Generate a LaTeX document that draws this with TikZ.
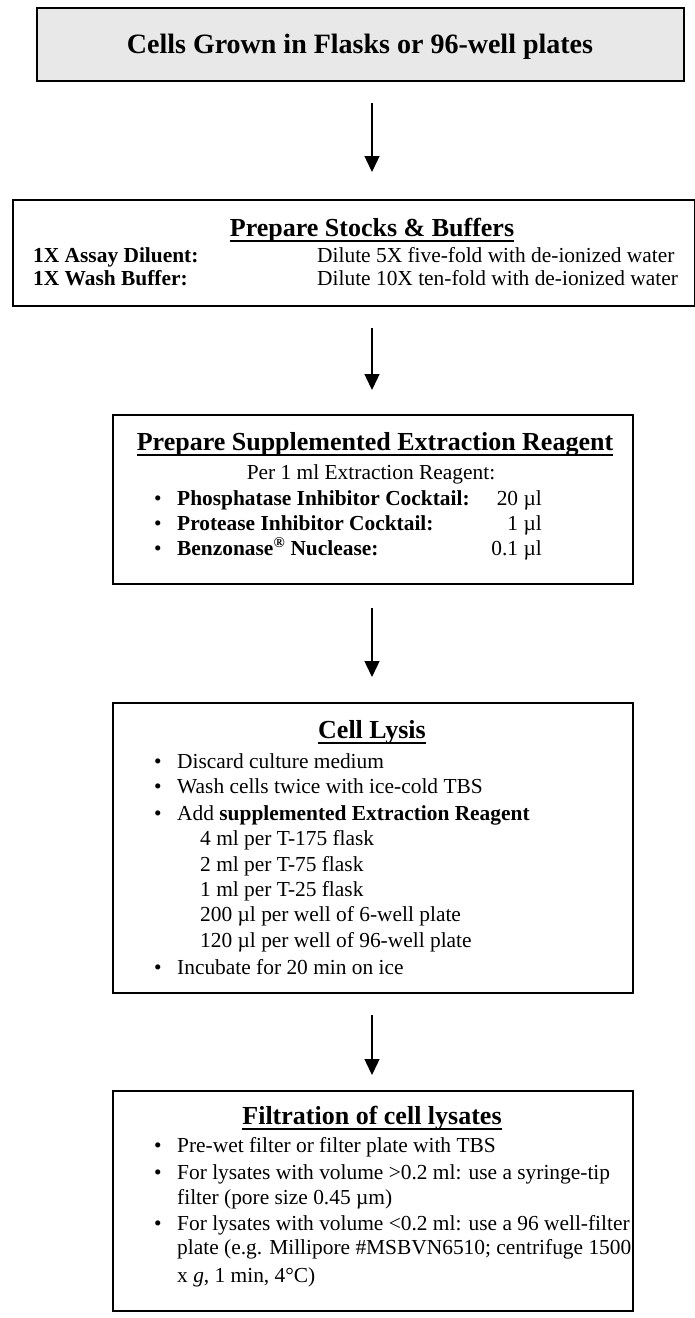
\documentclass[tikz,border=0pt]{standalone}
\usepackage{fontspec}
\setmainfont{Liberation Serif}
\usetikzlibrary{arrows.meta}
\definecolor{boxgray}{RGB}{232,232,232}
\begin{document}
\begin{tikzpicture}[x=1pt,y=-1pt,
  box/.style={draw, line width=1.6pt, inner sep=0pt, anchor=north west},
  body/.style={font=\fontsize{21.4}{25}\selectfont, inner sep=0pt, anchor=base west},
  bodyc/.style={font=\fontsize{21.4}{25}\selectfont, inner sep=0pt, anchor=base},
  bodyr/.style={font=\fontsize{21.4}{25}\selectfont, inner sep=0pt, anchor=base east},
  head/.style={font=\fontsize{26}{30}\selectfont\bfseries, inner sep=0pt, anchor=base},
  uline/.style={line width=1.8pt},
  flow/.style={-{Triangle[width=15pt,length=16pt]}, line width=1.4pt}]
\useasboundingbox (0,0) rectangle (695,1318);

% ---------- Box 1 ----------
\node[box, fill=boxgray, line width=2pt, minimum width=647pt, minimum height=73pt] (b1) at (36,7) {};
\node[font=\fontsize{28}{32}\selectfont\bfseries, inner sep=0pt, anchor=base] (t1) at (360,53) {Cells Grown in Flasks or 96-well plates};

\coordinate (a1s) at (372,103);
\coordinate (a1e) at (372,172);
\draw[flow] (a1s) -- (a1e);

% ---------- Box 2 ----------
\node[box, minimum width=682pt, minimum height=106pt] (b2) at (12,199) {};
\node[head] (h2) at (372,236) {Prepare Stocks \& Buffers};
\draw[uline] ([shift={(0,5)}]h2.base west) -- ([shift={(0,5)}]h2.base east);
\node[body, font=\fontsize{21.4}{25}\selectfont\bfseries] (l21) at (33,262) {1X Assay Diluent:};
\node[body] (r21) at (317,262) {Dilute 5X five-fold with de-ionized water};
\node[body, font=\fontsize{21.4}{25}\selectfont\bfseries] (l22) at (33,285) {1X Wash Buffer:};
\node[body] (r22) at (317,285) {Dilute 10X ten-fold with de-ionized water};

\coordinate (a2s) at (372,328);
\coordinate (a2e) at (372,390);
\draw[flow] (a2s) -- (a2e);

% ---------- Box 3 ----------
\node[box, minimum width=520pt, minimum height=169pt] (b3) at (112,414) {};
\node[head] (h3) at (375,450) {Prepare Supplemented Extraction Reagent};
\draw[uline] ([shift={(0,5)}]h3.base west) -- ([shift={(0,5)}]h3.base east);
\node[bodyc] (p3) at (371,479) {Per 1 ml Extraction Reagent:};
\node[body] (d31) at (154,505) {\textbullet};
\node[body] (x31) at (177,505) {\bfseries Phosphatase Inhibitor Cocktail:};
\node[bodyr] (v31) at (542,505) {20 µl};
\node[body] (d32) at (154,530) {\textbullet};
\node[body] (x32) at (177,530) {\bfseries Protease Inhibitor Cocktail:};
\node[bodyr] (v32) at (542,530) {1 µl};
\node[body] (d33) at (154,555) {\textbullet};
\node[body] (x33) at (177,555) {\bfseries Benzonase\textsuperscript{®} Nuclease:};
\node[bodyr] (v33) at (542,555) {0.1 µl};

\coordinate (a3s) at (372,608);
\coordinate (a3e) at (372,677);
\draw[flow] (a3s) -- (a3e);

% ---------- Box 4 ----------
\node[box, minimum width=520pt, minimum height=290pt] (b4) at (112,702) {};
\node[head] (h4) at (372,738) {Cell Lysis};
\draw[uline] ([shift={(0,5)}]h4.base west) -- ([shift={(0,5)}]h4.base east);
\node[body] (d41) at (154,768) {\textbullet};
\node[body] (x41) at (177,768) {Discard culture medium};
\node[body] (d42) at (154,793) {\textbullet};
\node[body] (x42) at (177,793) {Wash cells twice with ice-cold TBS};
\node[body] (d43) at (154,820) {\textbullet};
\node[body] (x43) at (177,820) {Add \textbf{supplemented Extraction Reagent}};
\node[body] (s41) at (200,845) {4 ml per T-175 flask};
\node[body] (s42) at (200,871) {2 ml per T-75 flask};
\node[body] (s43) at (200,896) {1 ml per T-25 flask};
\node[body] (s44) at (200,921) {200 µl per well of 6-well plate};
\node[body] (s45) at (200,947) {120 µl per well of 96-well plate};
\node[body] (d44) at (154,974) {\textbullet};
\node[body] (x44) at (177,974) {Incubate for 20 min on ice};

\coordinate (a4s) at (372,1015);
\coordinate (a4e) at (372,1075);
\draw[flow] (a4s) -- (a4e);

% ---------- Box 5 ----------
\node[box, minimum width=520pt, minimum height=220pt] (b5) at (112,1090) {};
\node[head] (h5) at (372,1124) {Filtration of cell lysates};
\draw[uline] ([shift={(0,5)}]h5.base west) -- ([shift={(0,5)}]h5.base east);
\node[body] (d51) at (154,1152) {\textbullet};
\node[body] (x51) at (177,1152) {Pre-wet filter or filter plate with TBS};
\node[body] (d52) at (154,1179) {\textbullet};
\node[body] (x52) at (177,1179) {For lysates with volume >0.2 ml: use a syringe-tip};
\node[body] (x52b) at (177,1204) {filter (pore size 0.45 µm)};
\node[body] (d53) at (154,1230) {\textbullet};
\node[body] (x53) at (177,1230) {For lysates with volume <0.2 ml: use a 96 well-filter};
\node[body] (x53b) at (177,1254) {plate (e.g. Millipore \#MSBVN6510; centrifuge 1500};
\node[body] (x53c) at (177,1282) {x \textit{g}, 1 min, 4°C)};
\end{tikzpicture}
\end{document}
